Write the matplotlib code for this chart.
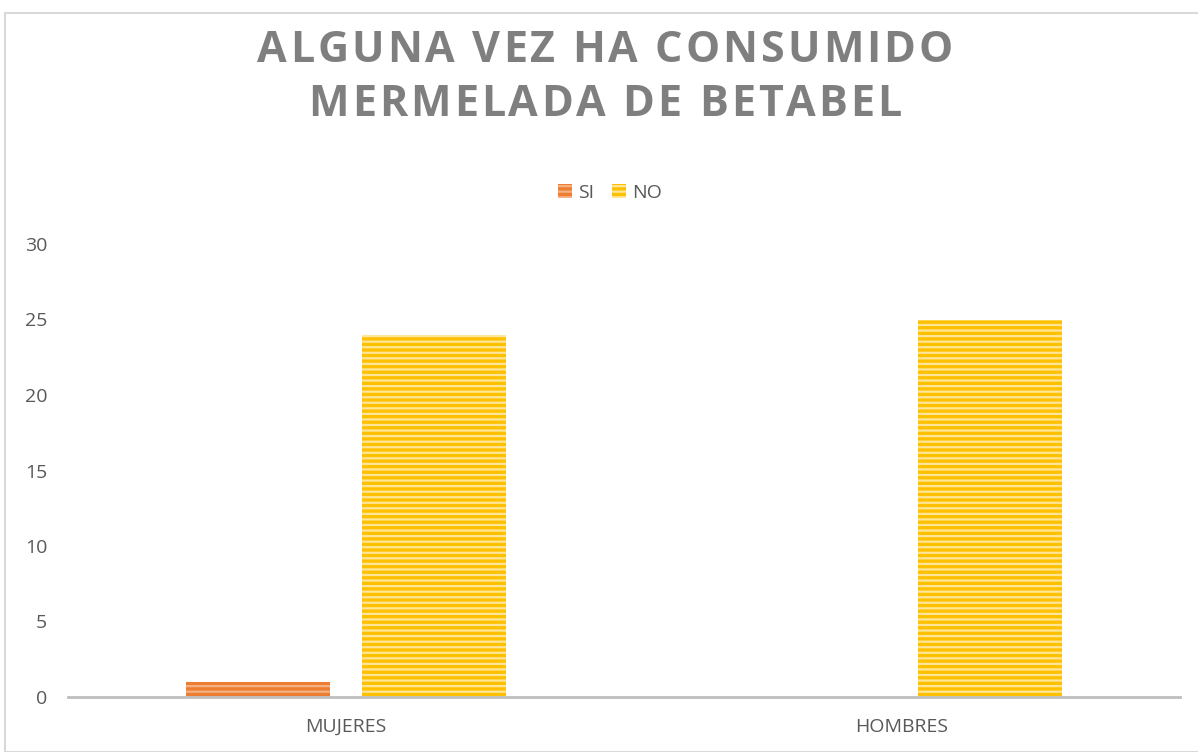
import numpy as np
import matplotlib
matplotlib.use('Agg')
import matplotlib.pyplot as plt
from matplotlib.patches import Rectangle

categorias = ['MUJERES', 'HOMBRES']
si = [1, 0]
no = [24, 25]
series = ['SI', 'NO']
titulo = ['ALGUNA VEZ HA CONSUMIDO', 'MERMELADA DE BETABEL']

plt.rcParams['font.family'] = ['Open Sans', 'DejaVu Sans']
plt.rcParams['hatch.linewidth'] = 1.6

W, H = 1198, 752
fig = plt.figure(figsize=[W/100, H/100], dpi=100)
ax = fig.add_axes([68/W, 1-697/H, 1112/W, (697-244)/H])

x = np.arange(len(categorias))
w = 0.26
off = 0.158
ax.bar(x - off, si, w, color='#ED7D31', edgecolor='#F4B183', hatch='---', linewidth=0, label=series[0])
ax.bar(x + off, no, w, color='#FFC000', edgecolor='#FFE699', hatch='---', linewidth=0, label=series[1])

ax.set_xlim(-0.5, 1.5)
ax.set_ylim(0, 30)
ax.set_yticks(range(0, 31, 5))
ax.set_xticks(x)
ax.set_xticklabels(categorias)
for s in ['top', 'right', 'left']:
    ax.spines[s].set_visible(False)
ax.spines['bottom'].set_color('#BFBFBF')
ax.spines['bottom'].set_linewidth(2)
ax.tick_params(axis='both', length=0, labelsize=14, colors='#595959')
ax.tick_params(axis='y', pad=15)
ax.tick_params(axis='x', pad=15)

# titulo con espaciado entre letras
r = fig.canvas.get_renderer()
def texto_espaciado(s, cx, cy, esp, **kw):
    anchos = []
    for c in s:
        t = fig.text(0, 0, c if c != ' ' else 'n', **kw)
        bb = t.get_window_extent(r)
        anchos.append(bb.width * (0.4 if c == ' ' else 1.0))
        t.remove()
    total = sum(anchos) + esp * (len(s) - 1)
    xx = cx - total / 2
    for c, a in zip(s, anchos):
        if c != ' ':
            fig.text(xx / W, cy, c, ha='left', va='center', **kw)
        xx += a + esp

estilo = dict(fontsize=31, fontweight='bold', color='#7F7F7F')
texto_espaciado(titulo[0], 605, 1-50/H, 3, **estilo)
texto_espaciado(titulo[1], 605, 1-105/H, 3, **estilo)

fig.legend(loc='center', bbox_to_anchor=(610/W, 1-193/H), ncol=2, frameon=False,
           fontsize=14, labelcolor='#595959', handlelength=0.75, handleheight=0.75,
           handletextpad=0.3, columnspacing=0.9)

fig.patches.append(Rectangle((5/W, 0), 1.1, 1-13/H, transform=fig.transFigure,
                             fill=False, edgecolor='#D9D9D9', linewidth=1.5))

fig.savefig('out.png', dpi=100)
